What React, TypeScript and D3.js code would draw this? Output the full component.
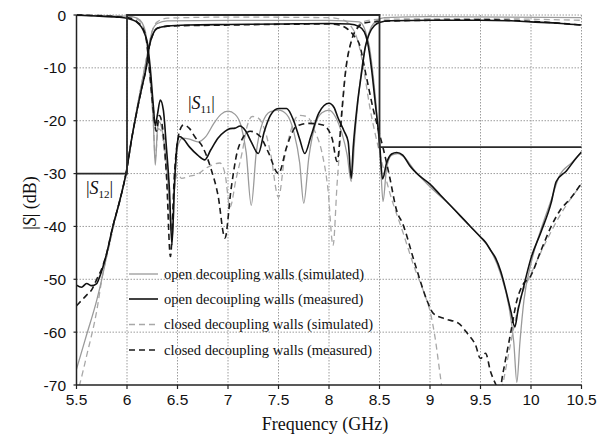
import React from "react";
import * as d3 from "d3";

type P = [number, number];

const xTicks = [5.5, 6, 6.5, 7, 7.5, 8, 8.5, 9, 9.5, 10, 10.5];
const yTicks = [0, -10, -20, -30, -40, -50, -60, -70];

const legendLabels = [
  "open decoupling walls (simulated)",
  "open decoupling walls (measured)",
  "closed decoupling walls (simulated)",
  "closed decoupling walls (measured)",
];

// specification mask
const maskPts: P[] = [[5.5, -30], [6, -30], [6, 0], [8.5, 0], [8.5, -25], [10.5, -25]];

// open decoupling walls, simulated (grey solid)
const openSimS21: P[] = [
  [5.5, -67], [5.6, -60.5], [5.7, -54], [5.75, -50], [5.8, -45.5], [5.86, -40], [5.93, -35], [5.99, -30],
  [6.05, -23], [6.1, -17.5], [6.15, -12.5], [6.19, -8.5], [6.22, -5.5], [6.25, -3], [6.3, -1.6], [6.4, -1.1],
  [7.0, -1.0], [8.0, -1.0], [8.3, -1.3], [8.36, -3], [8.4, -6], [8.44, -12], [8.48, -20], [8.51, -28],
  [8.535, -35.3], [8.57, -29], [8.62, -26.5], [8.68, -26.2], [8.75, -27], [8.85, -29.5], [9.0, -32.5],
  [9.2, -36], [9.4, -40], [9.5, -42], [9.6, -44.5], [9.7, -49], [9.78, -55], [9.83, -62], [9.86, -69.5],
  [9.89, -62], [9.93, -54], [10.0, -47], [10.1, -40.5], [10.2, -35], [10.28, -30.5], [10.4, -28], [10.5, -26],
];
const openSimS11: P[] = [
  [5.5, -0.1], [6.0, -0.2], [6.1, -0.6], [6.15, -1.5], [6.19, -4], [6.22, -10], [6.26, -20], [6.28, -28.4],
  [6.3, -22], [6.32, -20.2], [6.35, -22], [6.39, -28], [6.43, -38], [6.45, -42], [6.47, -33], [6.5, -25],
  [6.55, -23.3], [6.62, -23.5], [6.7, -24], [6.78, -23], [6.86, -20.5], [6.93, -18.8], [7.0, -18.2],
  [7.07, -18.8], [7.13, -21], [7.18, -26], [7.23, -36], [7.28, -26], [7.34, -20.5], [7.42, -18.3],
  [7.5, -18], [7.58, -18.8], [7.65, -22], [7.71, -28], [7.75, -35.6], [7.8, -27], [7.86, -21],
  [7.93, -18.5], [8.0, -18], [8.07, -19.5], [8.13, -22.5], [8.18, -26.5], [8.22, -31.5], [8.26, -22],
  [8.3, -14], [8.34, -8], [8.38, -4.5], [8.42, -2.2], [8.48, -1.0], [8.55, -0.5], [9.0, -0.3], [10.5, -0.5],
];

// open decoupling walls, measured (black solid)
const openMeasS21: P[] = [
  [5.5, -51.1], [5.55, -51.5], [5.6, -50.8], [5.65, -51.2], [5.7, -50.8], [5.73, -49.5], [5.8, -45],
  [5.86, -40], [5.93, -35], [5.99, -30], [6.05, -23], [6.1, -18], [6.15, -13.5], [6.19, -10], [6.22, -6],
  [6.26, -3.5], [6.3, -2.5], [6.4, -2.1], [6.6, -1.9], [7.0, -1.8], [7.5, -1.7], [8.0, -1.6], [8.2, -1.7],
  [8.3, -2.2], [8.35, -3.2], [8.38, -5], [8.42, -10], [8.46, -17], [8.5, -24], [8.53, -31], [8.57, -28],
  [8.62, -26.3], [8.67, -26], [8.73, -26.5], [8.8, -28.5], [8.9, -30.5], [9.0, -32], [9.1, -34], [9.2, -36],
  [9.3, -38], [9.4, -40], [9.5, -42], [9.55, -43], [9.6, -44.5], [9.65, -46], [9.7, -48.5], [9.75, -52],
  [9.8, -56], [9.84, -59], [9.87, -56], [9.92, -52], [10.0, -46], [10.1, -41], [10.2, -35.5], [10.25, -31.5],
  [10.35, -29.5], [10.45, -27], [10.5, -25.9],
];
const openMeasS11: P[] = [
  [5.5, 0], [5.7, -0.2], [5.9, -0.4], [6.0, -0.6], [6.05, -0.9], [6.1, -1.4], [6.14, -2.2], [6.17, -3.3],
  [6.2, -5.2], [6.23, -10], [6.26, -17], [6.28, -21], [6.3, -19], [6.33, -16.1], [6.36, -18], [6.39, -25],
  [6.42, -33], [6.445, -43.5], [6.47, -32], [6.5, -24], [6.52, -23], [6.56, -23.5], [6.62, -25], [6.7, -26.5],
  [6.77, -27.4], [6.83, -25.5], [6.9, -23.3], [6.97, -22], [7.02, -21.5], [7.07, -21.4], [7.12, -21],
  [7.17, -21.8], [7.23, -24], [7.3, -26.2], [7.36, -22], [7.42, -19], [7.5, -17.7], [7.58, -17.7],
  [7.65, -20], [7.71, -23.5], [7.76, -26.2], [7.82, -23], [7.9, -18.5], [8.0, -16.7], [8.05, -17.5],
  [8.09, -19.5], [8.15, -22], [8.19, -24], [8.22, -30.9], [8.24, -25], [8.28, -17], [8.32, -11.3],
  [8.36, -6], [8.4, -3.5], [8.45, -2.0], [8.5, -1.4], [8.6, -1.1], [9.0, -1.0], [9.5, -1.0], [9.8, -1.1],
  [10.0, -1.3], [10.3, -1.6], [10.5, -1.9],
];

// closed decoupling walls, simulated (grey dashed)
const closedSimS21: P[] = [
  [5.5, -72], [5.53, -70], [5.6, -64.5], [5.7, -56], [5.76, -49], [5.82, -44], [5.88, -39], [5.94, -34],
  [5.99, -30], [6.05, -23], [6.1, -17.5], [6.15, -12.5], [6.19, -8.5], [6.22, -5.5], [6.25, -3], [6.3, -1.3],
  [6.4, -0.6], [7.0, -0.4], [8.0, -0.5], [8.15, -1.0], [8.22, -2.2], [8.27, -4], [8.3, -6], [8.35, -11],
  [8.4, -17], [8.5, -26], [8.6, -33.5], [8.73, -41], [8.85, -48], [8.95, -53], [9.0, -56], [9.05, -61],
  [9.1, -68], [9.13, -72], [9.3, -78], [9.6, -78], [9.7, -72], [9.72, -70], [9.8, -62], [9.89, -54],
  [10.0, -49], [10.12, -44], [10.3, -37.5], [10.5, -32],
];
const closedSimS11: P[] = [
  [5.5, 0], [6.0, -0.3], [6.1, -0.8], [6.15, -1.8], [6.19, -4.5], [6.22, -10], [6.26, -20], [6.28, -27],
  [6.31, -21.5], [6.34, -22], [6.38, -28], [6.42, -38], [6.44, -41], [6.47, -33], [6.5, -30], [6.54, -30.9],
  [6.62, -30.5], [6.71, -30], [6.78, -29], [6.84, -28.4], [6.92, -28], [6.97, -30], [7.02, -36.3],
  [7.08, -31], [7.14, -26], [7.19, -21], [7.24, -19.2], [7.3, -19.5], [7.36, -21.5], [7.42, -26],
  [7.5, -34.5], [7.56, -27], [7.62, -22], [7.7, -19], [7.78, -19.2], [7.86, -22], [7.93, -26], [7.99, -33],
  [8.04, -43.6], [8.08, -32], [8.11, -24], [8.14, -16], [8.17, -10], [8.22, -5], [8.27, -2.5],
  [8.35, -1.2], [8.5, -0.8], [9.5, -0.7], [10.5, -1.0],
];

// closed decoupling walls, measured (black dashed)
const closedMeasS21: P[] = [
  [5.5, -55], [5.55, -54], [5.6, -53], [5.65, -52], [5.7, -50], [5.75, -48], [5.8, -45], [5.86, -40],
  [5.93, -35], [5.99, -30], [6.05, -23], [6.1, -18], [6.15, -13.5], [6.19, -10], [6.22, -6], [6.26, -3.5],
  [6.3, -2.5], [6.4, -2.1], [7.0, -1.9], [8.0, -1.7], [8.1, -1.9], [8.18, -2.6], [8.25, -4], [8.3, -5.5],
  [8.37, -11.7], [8.44, -18], [8.5, -22.5], [8.54, -25.5], [8.6, -30.6], [8.67, -37], [8.73, -39.5],
  [8.85, -47], [8.97, -54], [9.03, -56.4], [9.15, -57.5], [9.28, -58.3], [9.38, -60.5], [9.45, -62.4],
  [9.5, -65], [9.55, -64], [9.6, -67.5], [9.64, -69.4], [9.69, -71], [9.72, -68], [9.8, -60], [9.86, -54],
  [9.92, -51], [9.99, -49.6], [10.1, -44.5], [10.2, -40], [10.29, -36.9], [10.4, -34.5], [10.5, -31.8],
];
const closedMeasS11: P[] = [
  [5.5, 0], [6.0, -0.5], [6.1, -1.3], [6.15, -2.3], [6.19, -4.5], [6.22, -10], [6.26, -18], [6.29, -22],
  [6.32, -19], [6.35, -21], [6.39, -30], [6.43, -45.7], [6.47, -30], [6.52, -22], [6.56, -20.8],
  [6.62, -21.5], [6.67, -23], [6.75, -25], [6.83, -29], [6.9, -34], [6.97, -42.2], [7.03, -33], [7.09, -26],
  [7.14, -23.5], [7.22, -22], [7.32, -23], [7.4, -26], [7.5, -30], [7.58, -25], [7.66, -21.4], [7.71, -20.8],
  [7.8, -20.5], [7.94, -20.8], [8.03, -23.3], [8.08, -27.7], [8.13, -17.6], [8.16, -11.3], [8.22, -5],
  [8.28, -2.5], [8.35, -1.5], [8.5, -1.2], [9.0, -1.0], [9.5, -0.9], [10.0, -1.2], [10.5, -1.9],
];

const W = 600;
const H = 438;
const L = 76.5;
const R = 581.5;
const T = 15;
const B = 385;

const SANS = "'Liberation Sans', Arial, Helvetica, sans-serif";
const SERIF = "'Liberation Serif', 'Times New Roman', Times, serif";

const styles = [
  { stroke: "#9a9a9a", width: 1.3, dash: "" },
  { stroke: "#111", width: 1.6, dash: "" },
  { stroke: "#a8a8a8", width: 1.3, dash: "6,4" },
  { stroke: "#1a1a1a", width: 1.6, dash: "6,4" },
];

export default function App() {
  const x = d3.scaleLinear().domain([5.5, 10.5]).range([L, R]);
  const y = d3.scaleLinear().domain([-70, 0]).range([B, T]);
  const line = d3
    .line<P>()
    .x((d) => x(d[0]))
    .y((d) => y(d[1]))
    .curve(d3.curveMonotoneX);
  const straight = d3
    .line<P>()
    .x((d) => x(d[0]))
    .y((d) => y(d[1]));

  const series: { data: P[]; s: number }[] = [
    { data: closedSimS21, s: 2 },
    { data: closedSimS11, s: 2 },
    { data: openSimS21, s: 0 },
    { data: openSimS11, s: 0 },
    { data: closedMeasS21, s: 3 },
    { data: closedMeasS11, s: 3 },
    { data: openMeasS21, s: 1 },
    { data: openMeasS11, s: 1 },
  ];

  const legendY = [274, 299, 324.5, 350];

  return (
    <svg width={W} height={H} style={{ position: "absolute", left: 0, top: 0, background: "#fff" }}>
      <defs>
        <clipPath id="plotclip">
          <rect x={L} y={T - 2} width={R - L} height={B - T + 2} />
        </clipPath>
      </defs>
      {/* grid */}
      <g stroke="#9c9c9c" strokeWidth={1} strokeDasharray="1.5,1.5">
        {xTicks.slice(1).map((t) => (
          <line key={"gx" + t} x1={x(t)} x2={x(t)} y1={T} y2={B} />
        ))}
        {yTicks.slice(0, -1).map((t) => (
          <line key={"gy" + t} x1={L} x2={R} y1={y(t)} y2={y(t)} />
        ))}
      </g>
      {/* curves */}
      <g clipPath="url(#plotclip)" fill="none">
        {series.map((se, i) => (
          <path
            key={i}
            d={line(se.data) || ""}
            stroke={styles[se.s].stroke}
            strokeWidth={styles[se.s].width}
            strokeDasharray={styles[se.s].dash}
            strokeLinejoin="round"
          />
        ))}
      </g>
      {/* mask */}
      <path d={straight(maskPts) || ""} fill="none" stroke="#2a2a2a" strokeWidth={1.8} />
      {/* axes */}
      <g stroke="#222" strokeWidth={1.5}>
        <line x1={L} x2={L} y1={T} y2={B} />
        <line x1={L} x2={R} y1={B} y2={B} />
        {xTicks.map((t) => (
          <line key={"tx" + t} x1={x(t)} x2={x(t)} y1={B} y2={B + 4} strokeWidth={1.2} />
        ))}
        {yTicks.map((t) => (
          <line key={"ty" + t} x1={L - 3} x2={L} y1={y(t)} y2={y(t)} strokeWidth={1.2} />
        ))}
      </g>
      <g fontFamily={SANS} fontSize={15.5} fill="#111">
        {xTicks.map((t) => (
          <text key={"lx" + t} x={x(t)} y={405} textAnchor="middle">
            {String(t)}
          </text>
        ))}
        {yTicks.map((t) => (
          <text key={"ly" + t} x={66} y={y(t) + 5.5} textAnchor="end">
            {String(t)}
          </text>
        ))}
      </g>
      <text x={325} y={430} textAnchor="middle" fontFamily={SERIF} fontSize={18} fill="#111">
        Frequency (GHz)
      </text>
      <text
        transform="translate(36,203) rotate(-90)"
        textAnchor="middle"
        fontFamily={SERIF}
        fontSize={18}
        fill="#111"
      >
        |<tspan fontStyle="italic">S</tspan>| (dB)
      </text>
      {/* curve labels */}
      <text x={188} y={109} fontFamily={SERIF} fontSize={18} fill="#111">
        |<tspan fontStyle="italic">S</tspan>
        <tspan fontSize={11} dy={4}>11</tspan>
        <tspan dy={-4}>|</tspan>
      </text>
      <text x={86} y={194} fontFamily={SERIF} fontSize={18} fill="#111">
        |<tspan fontStyle="italic">S</tspan>
        <tspan fontSize={11} dy={4}>12</tspan>
        <tspan dy={-4}>|</tspan>
      </text>
      {/* legend */}
      <g>
        {legendLabels.map((lab, i) => (
          <g key={lab}>
            <line
              x1={129}
              x2={158}
              y1={legendY[i]}
              y2={legendY[i]}
              stroke={styles[i].stroke}
              strokeWidth={styles[i].width}
              strokeDasharray={styles[i].dash}
            />
            <text x={164} y={legendY[i] + 4.5} fontFamily={SERIF} fontSize={14.5} fill="#111">
              {lab}
            </text>
          </g>
        ))}
      </g>
    </svg>
  );
}
